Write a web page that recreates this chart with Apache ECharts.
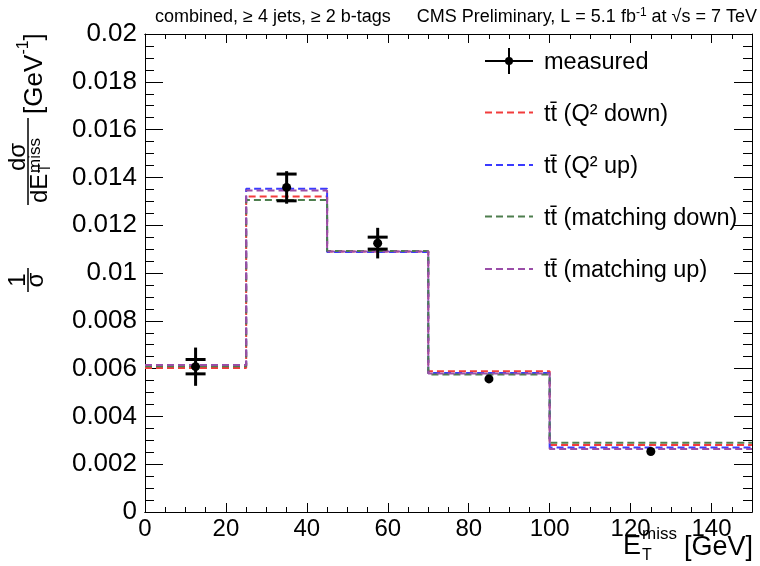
<!DOCTYPE html>
<html>
<head>
<meta charset="utf-8">
<script src="https://cdn.jsdelivr.net/npm/echarts@6/dist/echarts.min.js"></script>
<style>
  html, body { margin: 0; padding: 0; background: #fff; }
  #main { width: 760px; height: 566px; }
</style>
</head>
<body>
<div id="main"></div>
<script>
// bin edges of the MET histogram (GeV)
var edges = [0, 25, 45, 70, 100, 150];

// normalised cross section per bin, one array per simulation variation
var q2Down = [0.00603, 0.01320, 0.01090, 0.00589, 0.00280];
var q2Up = [0.00612, 0.01352, 0.01088, 0.00582, 0.00270];
var matchDown = [0.00610, 0.01305, 0.01092, 0.00575, 0.00290];
var matchUp = [0.00615, 0.01345, 0.01090, 0.00580, 0.00264];

// measured points: bin centre, value, stat error (caps), total error
var measX = [12.5, 35, 57.5, 85, 125];
var measY = [0.00608, 0.01358, 0.01125, 0.00557, 0.00253];
var measStat = [0.00030, 0.00056, 0.00025, 0.00012, 0.00006];
var measTot = [0.00080, 0.00068, 0.00064, 0.00016, 0.00010];

var legendNames = ['measured', 'tt\u0304 (Q\u00b2 down)', 'tt\u0304 (Q\u00b2 up)',
  'tt\u0304 (matching down)', 'tt\u0304 (matching up)'];
var colors = ['#000000', '#f23c3c', '#3a3aff', '#4e7e4e', '#9a4ea8'];

var FONT = 'Liberation Sans, Arial, sans-serif';

function histData(vals) {
  return edges.map(function (e, i) {
    return [e, vals[Math.min(i, vals.length - 1)]];
  });
}

function histSeries(name, vals, color) {
  return {
    name: name,
    type: 'line',
    step: 'end',
    symbol: 'none',
    data: histData(vals),
    lineStyle: { color: color, width: 2, type: [7, 4] },
    silent: true,
    z: 3
  };
}

var measured = measX.map(function (x, i) {
  return [x, measY[i], measStat[i], measTot[i]];
});

function renderMeasured(params, api) {
  var x = api.value(0), y = api.value(1), s = api.value(2), t = api.value(3);
  var c = api.coord([x, y]);
  var tTop = api.coord([x, y + t]), tBot = api.coord([x, y - t]);
  var sTop = api.coord([x, y + s]), sBot = api.coord([x, y - s]);
  var st = { stroke: '#000', lineWidth: 3 };
  var kids = [
    { type: 'line', shape: { x1: c[0], y1: tTop[1], x2: c[0], y2: tBot[1] }, style: st }
  ];
  // caps only when the bar sticks out of the marker
  if (c[1] - sTop[1] > 5) {
    kids.push({ type: 'line', shape: { x1: c[0] - 10, y1: sTop[1], x2: c[0] + 10, y2: sTop[1] }, style: st });
    kids.push({ type: 'line', shape: { x1: c[0] - 10, y1: sBot[1], x2: c[0] + 10, y2: sBot[1] }, style: st });
  }
  kids.push({ type: 'circle', shape: { cx: c[0], cy: c[1], r: 4.5 }, style: { fill: '#000' } });
  return { type: 'group', children: kids };
}

function xAxisDef(pos, interval, len, labels) {
  return {
    type: 'value', position: pos, min: 0, max: 150, interval: interval,
    axisLine: { show: true, onZero: false, lineStyle: { color: '#000', width: 1 } },
    axisTick: { show: true, inside: true, length: len, lineStyle: { color: '#000', width: 1 } },
    splitLine: { show: false },
    axisLabel: labels ? {
      show: true, fontSize: 24, color: '#000', fontFamily: FONT, margin: 5,
      formatter: function (v) { return v > 140 ? '' : String(v); }
    } : { show: false }
  };
}

function yAxisDef(pos, labels) {
  return {
    type: 'value', position: pos, min: 0, max: 0.02, interval: 0.002,
    axisLine: { show: true, onZero: false, lineStyle: { color: '#000', width: 1 } },
    axisTick: { show: true, inside: true, length: 18, lineStyle: { color: '#000', width: 1 } },
    minorTick: { show: true, splitNumber: 4, length: 9, lineStyle: { color: '#000', width: 1 } },
    splitLine: { show: false },
    minorSplitLine: { show: false },
    axisLabel: labels ? {
      show: true, fontSize: 26, color: '#000', fontFamily: FONT, margin: 8,
      formatter: function (v) { return String(+v.toFixed(4)); }
    } : { show: false }
  };
}

// legend drawn by hand to get the ROOT look
var legendY = [61, 112.5, 165, 216.5, 269];
var legendGraphics = [];
legendNames.forEach(function (name, i) {
  var y = legendY[i];
  if (i === 0) {
    legendGraphics.push({ type: 'line', shape: { x1: 485, y1: y, x2: 533, y2: y }, style: { stroke: '#000', lineWidth: 2 } });
    legendGraphics.push({ type: 'line', shape: { x1: 509, y1: y - 13, x2: 509, y2: y + 13 }, style: { stroke: '#000', lineWidth: 2 } });
    legendGraphics.push({ type: 'circle', shape: { cx: 509, cy: y, r: 4 }, style: { fill: '#000' } });
  } else {
    legendGraphics.push({ type: 'line', shape: { x1: 485, y1: y, x2: 533, y2: y }, style: { stroke: colors[i], lineWidth: 2, lineDash: [7, 4] } });
  }
  legendGraphics.push({
    type: 'text', x: 544, y: y + 2,
    style: { text: name, font: '23.5px ' + FONT, fill: '#000', textVerticalAlign: 'middle' }
  });
});

// y axis title, built in local coordinates and rotated
var yTitle = {
  type: 'group', x: 28, y: 300, rotation: Math.PI / 2,
  children: [
    { type: 'text', x: 20, y: 2, style: { text: '1', font: '24px ' + FONT, fill: '#000', textAlign: 'center', textVerticalAlign: 'bottom' } },
    { type: 'line', shape: { x1: 8, y1: 0, x2: 32, y2: 0 }, style: { stroke: '#000', lineWidth: 1.5 } },
    { type: 'text', x: 20, y: -4, style: { text: '\u03c3', font: '24px ' + FONT, fill: '#000', textAlign: 'center', textVerticalAlign: 'top' } },
    { type: 'text', x: 143, y: 2, style: { text: 'd\u03c3', font: '24px ' + FONT, fill: '#000', textAlign: 'center', textVerticalAlign: 'bottom' } },
    { type: 'line', shape: { x1: 95, y1: 0, x2: 182, y2: 0 }, style: { stroke: '#000', lineWidth: 1.5 } },
    { type: 'text', x: 97, y: 0, style: { text: 'dE', font: '24px ' + FONT, fill: '#000', textVerticalAlign: 'top' } },
    { type: 'text', x: 127, y: -1, style: { text: 'miss', font: '17px ' + FONT, fill: '#000', textVerticalAlign: 'top' } },
    { type: 'text', x: 127, y: 10, style: { text: 'T', font: '16px ' + FONT, fill: '#000', textVerticalAlign: 'top' } },
    { type: 'text', x: 186, y: 7, style: { text: '[GeV', font: '26px ' + FONT, fill: '#000', textVerticalAlign: 'middle' } },
    { type: 'text', x: 245.5, y: -4, style: { text: '-1', font: '16px ' + FONT, fill: '#000', textVerticalAlign: 'middle' } },
    { type: 'text', x: 259.5, y: 7, style: { text: ']', font: '26px ' + FONT, fill: '#000', textVerticalAlign: 'middle' } }
  ]
};

var xTitle = [
  { type: 'text', x: 623, y: 547, style: { text: 'E', font: '27px ' + FONT, fill: '#000', textVerticalAlign: 'middle' } },
  { type: 'text', x: 642, y: 534, style: { text: 'miss', font: '17px ' + FONT, fill: '#000', textVerticalAlign: 'middle' } },
  { type: 'text', x: 642, y: 556, style: { text: 'T', font: '16px ' + FONT, fill: '#000', textVerticalAlign: 'middle' } },
  { type: 'text', x: 753, y: 548, style: { text: '[GeV]', font: '27px ' + FONT, fill: '#000', textAlign: 'right', textVerticalAlign: 'middle' } }
];

var header = [
  { type: 'text', x: 155, y: 17, style: { text: 'combined, \u2265 4 jets, \u2265 2 b-tags', font: '18px ' + FONT, fill: '#000', textVerticalAlign: 'middle' } },
  { type: 'text', x: 757, y: 17, style: {
      text: 'CMS Preliminary, L = 5.1 fb{s|-1} at \u221as = 7 TeV', font: '18px ' + FONT, fill: '#000',
      textAlign: 'right', textVerticalAlign: 'middle',
      rich: { s: { fontSize: 12, fontFamily: FONT, padding: [0, 0, 9, 0] } }
  } }
];

var chart = echarts.init(document.getElementById('main'), null, { renderer: 'canvas' });
chart.setOption({
  animation: false,
  backgroundColor: '#fff',
  textStyle: { fontFamily: FONT },
  grid: { left: 145, right: 8, top: 34, bottom: 54, containLabel: false },
  // bottom major, top major, then minor axes (taken sides flip them into place)
  xAxis: [
    xAxisDef('bottom', 20, 9, true),
    xAxisDef('top', 20, 9, false),
    xAxisDef('top', 5, 5, false),
    xAxisDef('bottom', 5, 5, false)
  ],
  yAxis: [yAxisDef('left', true), yAxisDef('right', false)],
  series: [
    histSeries(legendNames[1], q2Down, colors[1]),
    histSeries(legendNames[2], q2Up, colors[2]),
    histSeries(legendNames[3], matchDown, colors[3]),
    histSeries(legendNames[4], matchUp, colors[4]),
    {
      name: legendNames[0], type: 'custom', renderItem: renderMeasured,
      data: measured, z: 5, silent: true,
      encode: { x: 0, y: 1 }
    }
  ],
  graphic: [yTitle].concat(xTitle, header, legendGraphics)
});
</script>
</body>
</html>
